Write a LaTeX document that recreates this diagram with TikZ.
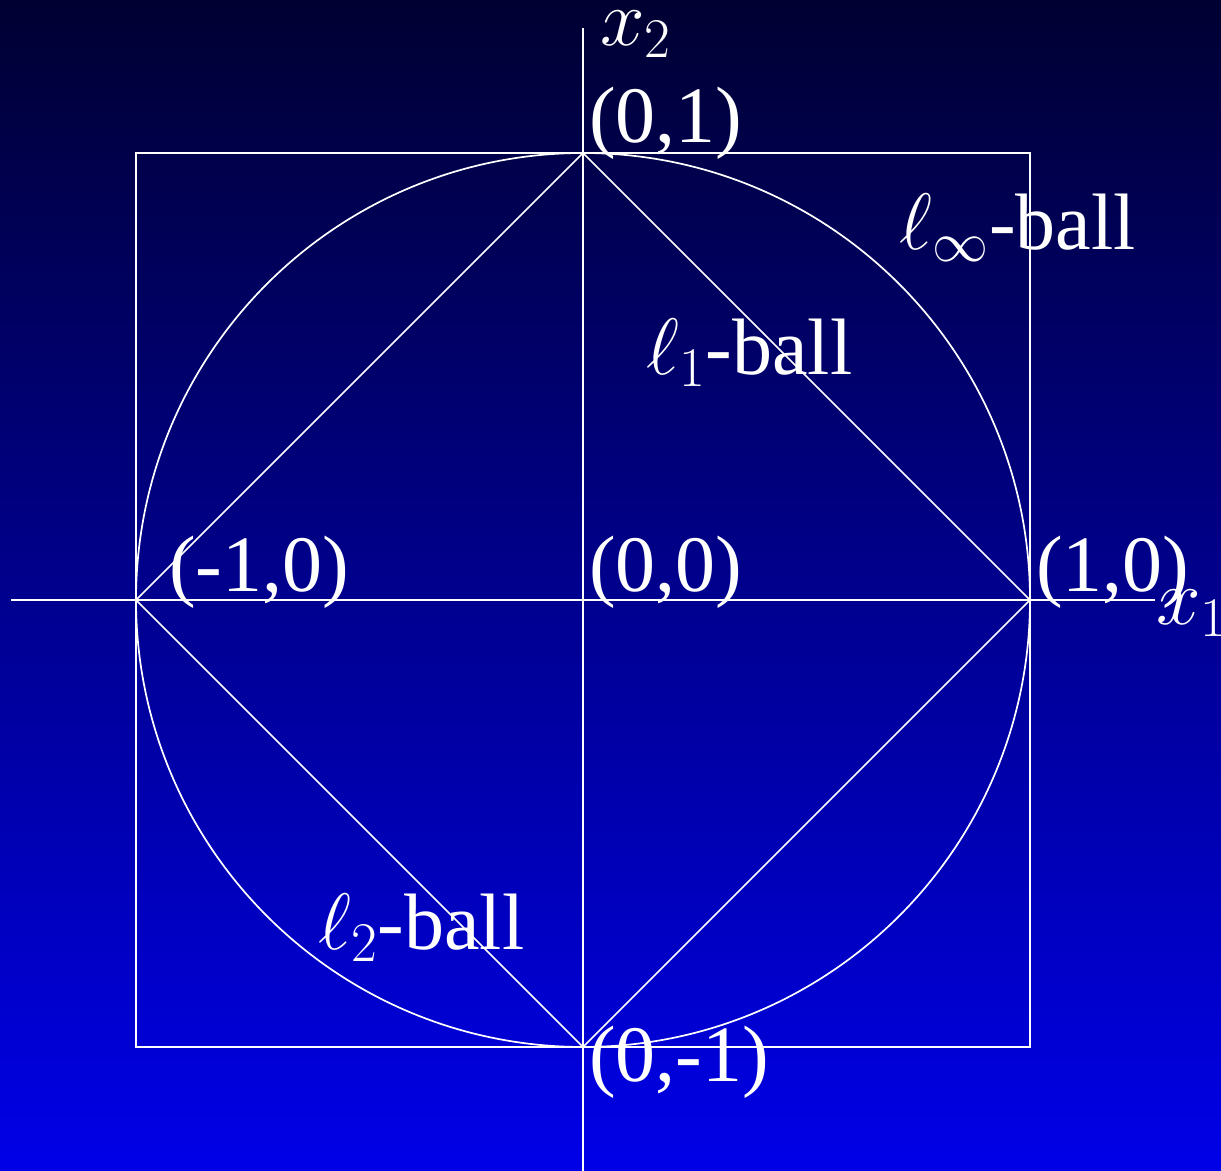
\documentclass[tikz,border=0pt]{standalone}
\usepackage{fix-cm}
\usepackage{fontspec}
\setmainfont{Liberation Serif}
\begin{document}
\begin{tikzpicture}[x=447pt,y=447pt,
  wline/.style={white,line width=1.7pt},
  lbl/.style={white,inner sep=0pt,anchor=base west,font=\fontsize{80}{92}\selectfont}]
\useasboundingbox (-1.3043,-1.2774) rectangle (1.4273,1.3423);
\shade[top color={rgb,255:red,0;green,0;blue,50},bottom color={rgb,255:red,0;green,0;blue,232}]
  (-1.3043,-1.2774) rectangle (1.4273,1.3423);
% points
\coordinate (O) at (0,0);
\coordinate (E) at (1,0);
\coordinate (N) at (0,1);
\coordinate (W) at (-1,0);
\coordinate (S) at (0,-1);
\coordinate (xl) at (-1.28,0);
\coordinate (xr) at (1.28,0);
\coordinate (yb) at (0,-1.28);
\coordinate (yt) at (0,1.28);
% axes
\draw[wline] (xl) -- (xr);
\draw[wline] (yb) -- (yt);
% balls
\draw[wline] (-1,-1) rectangle (1,1);
\draw[wline] (O) circle[radius=1];
\draw[wline] (E) -- (N) -- (W) -- (S) -- cycle;
% labels
\node[lbl] (lN) at (0.0134,1.0246) {(0,1)};
\node[lbl] (lO) at (0.0134,0.0179) {(0,0)};
\node[lbl] (lW) at (-0.9262,0.0179) {(-1,0)};
\node[lbl] (lE) at (1.0134,0.0179) {(1,0)};
\node[lbl] (lS) at (0.0134,-1.0783) {(0,-1)};
\node[lbl] (x2) at (0.038,1.2416) {$x_2$};
\node[lbl] (x1) at (1.282,-0.0559) {$x_1$};
\node[lbl] (linf) at (0.708,0.783) {$\ell_\infty$-ball};
\node[lbl] (l1) at (0.142,0.5034) {$\ell_1$-ball};
\node[lbl] (l2) at (-0.592,-0.783) {$\ell_2$-ball};
\end{tikzpicture}
\end{document}
